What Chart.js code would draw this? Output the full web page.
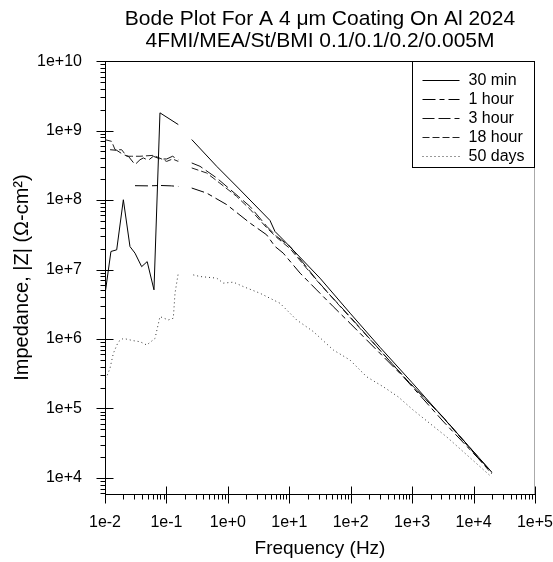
<!DOCTYPE html>
<html>
<head>
<meta charset="utf-8">
<script src="https://cdn.jsdelivr.net/npm/chart.js@4/dist/chart.umd.min.js"></script>
<style>
html,body{margin:0;padding:0;background:#fff;}
#wrap{width:553px;height:562px;}
</style>
</head>
<body>
<div id="wrap"><canvas id="c" width="553" height="562"></canvas></div>
<script>
// ---- data (frequency in Hz, |Z| in ohm-cm^2); null = gap ----
const seriesNames = ['30 min', '1 hour', '3 hour', '18 hour', '50 days'];

const freq30 = [0.01, 0.0125, 0.0155, 0.0199, 0.0255, 0.0308, 0.0395, 0.0486, 0.0627, 0.0785, 0.156, 0.2, 0.258, 0.658, 1.48, 4.85, 5.85, 7.98, 31.6, 100, 300, 1000, 3162, 19700];
const z30 = [4.4e6, 1.82e7, 1.92e7, 1.01e8, 2.14e7, 1.72e7, 1.10e7, 1.30e7, 5.1e6, 1.80e9, 1.22e9, null, 7.43e8, 3.06e8, 1.49e8, 5.09e7, 3.53e7, 2.68e7, 7.52e6, 2.3e6, 7.6e5, 2.35e5, 7.5e4, 1.22e4];

const freq1h = [0.0308, 0.05, 0.08, 0.12, 0.156, 0.2, 0.258, 0.452, 0.957, 2.29, 4.28, 5.85, 7.98, 15, 27.9, 52.1, 97.3, 720, 3162, 19700];
const z1h = [1.61e8, 1.60e8, 1.62e8, 1.60e8, 1.57e8, null, 1.49e8, 1.26e8, 8.6e7, 4.67e7, 3.16e7, 2.15e7, 1.72e7, 8.87e6, 5.09e6, 2.92e6, 1.69e6, 2.86e5, 6.6e4, 1.2e4];

const freq3h = [0.0121, 0.0155, 0.0199, 0.024, 0.0308, 0.0371, 0.0421, 0.0507, 0.0612, 0.0786, 0.101, 0.126, 0.156, 0.2, 0.258, 0.352, 0.658, 1.48, 2.29, 4.28, 6.23, 10.3, 27.9, 46, 97.3, 815, 3162, 19700];
const z3h = [5.3e8, 5.2e8, 4.5e8, 4.27e8, 3.24e8, 3.8e8, 4.04e8, 3.73e8, 4.27e8, 3.9e8, 3.9e8, 4.27e8, 3.8e8, null, 3.42e8, 3.06e8, 2.08e8, 1.13e8, 8.1e7, 4.2e7, 3.0e7, 2.15e7, 7.1e6, 4.3e6, 2.1e6, 2.57e5, 7.6e4, 1.2e4];

const freq18h = [0.01, 0.0128, 0.0146, 0.0187, 0.0225, 0.0272, 0.0371, 0.0612, 0.0786, 0.101, 0.126, 0.156, 0.2, 0.258, 0.452, 0.658, 1.39, 2.29, 4.28, 6.23, 10.3, 27.9, 97.3, 815, 3162, 19700];
const z18h = [7.4e8, 7.0e8, 5.3e8, 5.3e8, 4.27e8, 4.27e8, 4.27e8, 4.4e8, 4.0e8, 3.6e8, 3.9e8, 3.6e8, null, 2.9e8, 2.45e8, 1.9e8, 1.13e8, 7.4e7, 4.0e7, 2.9e7, 2.0e7, 7.0e6, 2.05e6, 2.6e5, 7.5e4, 1.15e4];

const freq50d = [0.01, 0.01064, 0.01205, 0.01368, 0.01648, 0.01986, 0.0289, 0.0372, 0.0478, 0.0652, 0.0785, 0.1072, 0.1294, 0.138, 0.156, 0.2, 0.2735, 0.352, 0.658, 0.845, 1.23, 1.78, 3.33, 7.06, 13.2, 24.6, 52.1, 97.3, 182, 340, 594, 1045, 3650, 19700];
const z50d = [2.71e5, 2.86e5, 3.78e5, 6.22e5, 9.14e5, 1.02e6, 9.46e5, 9.14e5, 8.2e5, 1.02e6, 2.1e6, 1.88e6, 1.99e6, 4.57e6, 8.87e6, null, 8.37e6, 7.93e6, 7.52e6, 6.37e6, 6.58e6, 5.69e6, 4.56e6, 3.27e6, 1.88e6, 1.28e6, 6.95e5, 4.98e5, 2.86e5, 2.05e5, 1.47e5, 9.46e4, 3.9e4, 1.03e4];

const xMin = 0.01, xMax = 1e5;
const yMin = 5875, yMax = 1e10;

const titleLines = ['Bode Plot For A 4 \u03bcm Coating On Al 2024', '4FMI/MEA/St/BMI 0.1/0.1/0.2/0.005M'];
const xTitle = 'Frequency (Hz)';
const yTitle = 'Impedance, |Z| (\u03a9-cm\u00b2)';

// ---- build ----
const pts = (f, z) => f.map((v, i) => ({x: v, y: z[i]}));
const FONT = "'Liberation Sans', Arial, Helvetica, sans-serif";
const styles = [
  {borderColor: '#000', borderWidth: 1, borderDash: []},
  {borderColor: '#000', borderWidth: 1, borderDash: [13, 4, 5, 4]},
  {borderColor: '#111', borderWidth: 1, borderDash: [12, 4]},
  {borderColor: '#222', borderWidth: 1, borderDash: [7, 3]},
  {borderColor: '#333', borderWidth: 1, borderDash: [1, 3]}
];
const allData = [pts(freq30, z30), pts(freq1h, z1h), pts(freq3h, z3h), pts(freq18h, z18h), pts(freq50d, z50d)];
const datasets = allData.map((d, i) => Object.assign({
  label: seriesNames[i], data: d, pointRadius: 0, tension: 0, fill: false, spanGaps: false
}, styles[i]));

const isPow10 = v => { const l = Math.log10(v); return Math.abs(l - Math.round(l)) < 1e-6; };
const isIntSig = v => { const e = Math.floor(Math.log10(v) + 1e-9); const s = v / Math.pow(10, e); return Math.abs(s - Math.round(s)) < 1e-6; };
const expLabel = v => { const r = Math.round(Math.log10(v)); return '1e' + (r >= 0 ? '+' : '') + r; };

const decor = {
  id: 'decor',
  afterDraw(chart) {
    const {ctx, chartArea: a, scales: {x, y}} = chart;
    ctx.save();
    ctx.strokeStyle = '#000';
    ctx.lineWidth = 1;
    ctx.setLineDash([]);
    // frame top (dark) & right (faint)
    ctx.beginPath();
    ctx.moveTo(a.left, Math.round(a.top) + 0.5); ctx.lineTo(a.right, Math.round(a.top) + 0.5);
    ctx.stroke();
    ctx.beginPath();
    ctx.strokeStyle = '#aaa';
    ctx.moveTo(Math.round(a.right) - 0.5, a.top); ctx.lineTo(Math.round(a.right) - 0.5, a.bottom);
    ctx.stroke();
    ctx.strokeStyle = '#000';
    // ticks: majors cross the axis, minors point outward
    const bx = Math.round(a.bottom) + 0.5, lx = Math.round(a.left) + 0.5;
    x.ticks.forEach(t => {
      if (!isIntSig(t.value)) return;
      const p = Math.round(x.getPixelForValue(t.value)) + 0.5;
      ctx.beginPath();
      if (isPow10(t.value)) { ctx.moveTo(p, bx - 8); ctx.lineTo(p, bx + 9); }
      else { ctx.moveTo(p, bx); ctx.lineTo(p, bx + 5); }
      ctx.stroke();
    });
    y.ticks.forEach(t => {
      if (!isIntSig(t.value)) return;
      const p = Math.round(y.getPixelForValue(t.value)) + 0.5;
      ctx.beginPath();
      if (isPow10(t.value)) { ctx.moveTo(lx - 9, p); ctx.lineTo(lx + 8, p); }
      else { ctx.moveTo(lx - 5, p); ctx.lineTo(lx, p); }
      ctx.stroke();
    });
    // legend box inside top-right of plot
    const W = 123, H = 106, rowH = 19;
    const L = Math.round(a.right - W) + 0.5, T = Math.round(a.top) + 0.5;
    ctx.fillStyle = '#fff';
    ctx.fillRect(L, T, W, H);
    ctx.strokeRect(L, T, W - 1, H);
    chart.data.datasets.forEach((ds, i) => {
      const yy = Math.round(T + 18 + i * rowH) + 0.5;
      ctx.beginPath();
      ctx.strokeStyle = ds.borderColor;
      ctx.lineWidth = ds.borderWidth;
      ctx.setLineDash(ds.borderDash || []);
      ctx.moveTo(L + 10, yy); ctx.lineTo(L + 47, yy);
      ctx.stroke();
      ctx.setLineDash([]);
      ctx.fillStyle = '#000';
      ctx.font = '16px ' + FONT;
      ctx.textBaseline = 'middle';
      ctx.textAlign = 'left';
      ctx.fillText(ds.label, L + 56, yy);
    });
    ctx.restore();
  }
};

const hiddenGrid = len => ({display: true, drawOnChartArea: false, drawTicks: true, tickLength: len, tickColor: 'rgba(0,0,0,0)', color: 'rgba(0,0,0,0)'});

new Chart(document.getElementById('c'), {
  type: 'line',
  data: {datasets},
  options: {
    responsive: false,
    animation: false,
    layout: {padding: {left: 0, right: 0, top: 0, bottom: 0}},
    plugins: {
      legend: {display: false},
      tooltip: {enabled: false},
      title: {
        display: true, text: titleLines, color: '#000', fullSize: false,
        font: {family: FONT, size: 21, weight: 'normal', lineHeight: 1.05},
        padding: {top: 8, bottom: 9}
      }
    },
    scales: {
      x: {
        type: 'logarithmic', min: xMin, max: xMax,
        grid: hiddenGrid(19),
        border: {display: true, color: '#000', width: 1},
        ticks: {
          color: '#000', font: {family: FONT, size: 16}, padding: 0,
          autoSkip: false, maxRotation: 0, minRotation: 0,
          callback: v => isPow10(v) ? expLabel(v) : ''
        },
        title: {display: true, text: xTitle, color: '#000', font: {family: FONT, size: 19}, padding: {top: 4, bottom: 2}},
        afterFit: s => { s.height = 68; }
      },
      y: {
        type: 'logarithmic', min: yMin, max: yMax,
        grid: hiddenGrid(23),
        border: {display: true, color: '#000', width: 1},
        ticks: {
          color: '#000', font: {family: FONT, size: 16}, padding: 0,
          autoSkip: false,
          callback: v => isPow10(v) ? expLabel(v) : ''
        },
        title: {display: true, text: yTitle, color: '#000', font: {family: FONT, size: 20}, padding: {top: 10, bottom: 0}},
        afterFit: s => { s.width = 105; }
      }
    }
  },
  plugins: [decor]
});
</script>
</body>
</html>
